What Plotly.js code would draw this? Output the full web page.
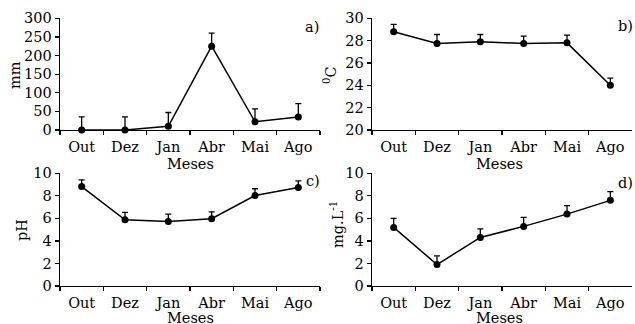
<!DOCTYPE html>
<html><head><meta charset="utf-8">
<script src="https://cdn.plot.ly/plotly-3.0.1.min.js"></script>
<style>body{margin:0;padding:0;background:#fff}#chart{width:635px;height:324px}</style>
</head><body><div id="chart"></div>
<script>
const months = ["Out","Dez","Jan","Abr","Mai","Ago"];
const rainfall = [0, 0, 10, 225, 22, 35];
const rainfallErr = [35, 35, 37, 35, 35, 36];
const temperature = [28.8, 27.75, 27.9, 27.75, 27.8, 24.0];
const temperatureErr = [0.65, 0.8, 0.65, 0.65, 0.7, 0.65];
const ph = [8.82, 5.88, 5.73, 5.97, 8.03, 8.73];
const phErr = [0.6, 0.65, 0.65, 0.6, 0.6, 0.6];
const oxygen = [5.2, 1.9, 4.31, 5.29, 6.38, 7.6];
const oxygenErr = [0.8, 0.77, 0.75, 0.8, 0.75, 0.78];

const W = 635, H = 324;
const FONT = "DejaVu Serif, serif";
function tr(y, err, xa, ya){
  return {x: months, y: y, xaxis: xa, yaxis: ya, type: "scatter", mode: "lines+markers",
    line: {color: "#000", width: 1.5}, marker: {color: "#000", size: 7},
    error_y: {type: "data", array: err, arrayminus: err.map(()=>0), symmetric: false, color: "#000", thickness: 1.3, width: 3},
    showlegend: false, cliponaxis: false};
}
const data = [
  tr(rainfall, rainfallErr, "x", "y"),
  tr(temperature, temperatureErr, "x2", "y2"),
  tr(ph, phErr, "x3", "y3"),
  tr(oxygen, oxygenErr, "x4", "y4")
];
const leftD = [60/W, 320/W], rightD = [372/W, 632/W];
const topD = [(H-130)/H, (H-18.3)/H], botD = [(H-286)/H, (H-173.3)/H];
function xax(dom, anchor){
  return {domain: dom, anchor: anchor, type: "category", range: [-0.5, 5.5], tickson: "boundaries",
    showline: true, linecolor: "#000", linewidth: 1.3, ticks: "outside", ticklen: 4, tickcolor: "#000", tickwidth: 1.3,
    ticklabelstandoff: 3,
    showgrid: false, zeroline: false, tickfont: {family: FONT, size: 14.5, color: "#000"}};
}
function yax(dom, anchor, range, dtick){
  return {domain: dom, anchor: anchor, range: range, dtick: dtick, tick0: 0,
    showline: true, linecolor: "#000", linewidth: 1.3, ticks: "outside", ticklen: 4, tickcolor: "#000", tickwidth: 1.3,
    showgrid: false, zeroline: false, tickfont: {family: FONT, size: 14.5, color: "#000"}};
}
function ann(text, px, py, angle){
  const a = {text: text, x: px/W, y: 1-py/H, xref: "paper", yref: "paper", showarrow: false,
    xanchor: "center", yanchor: "middle", font: {family: FONT, size: 14.5, color: "#000"}};
  if (angle) a.textangle = angle;
  return a;
}
const layout = {
  width: W, height: H, margin: {l:0, r:0, t:0, b:0},
  paper_bgcolor: "#fff", plot_bgcolor: "#fff",
  xaxis: xax(leftD, "y"), yaxis: yax(topD, "x", [0, 300], 50),
  xaxis2: xax(rightD, "y2"), yaxis2: yax(topD, "x2", [20, 30], 2),
  xaxis3: xax(leftD, "y3"), yaxis3: yax(botD, "x3", [0, 10], 2),
  xaxis4: xax(rightD, "y4"), yaxis4: yax(botD, "x4", [0, 10], 2),
  annotations: [
    ann("mm", 15, 75, -90),
    ann("<sup>0</sup>C", 330, 75, -90),
    ann("pH", 22, 230, -90),
    ann("mg.L<sup>-1</sup>", 337, 225, -90),
    ann("Meses", 190, 164),
    ann("Meses", 499, 164),
    ann("Meses", 190, 318),
    ann("Meses", 499, 318),
    ann("a)", 312, 27),
    ann("b)", 625, 26),
    ann("c)", 313, 181),
    ann("d)", 625, 183)
  ]
};
Plotly.newPlot("chart", data, layout, {displayModeBar: false, staticPlot: true});
</script>
</body></html>
